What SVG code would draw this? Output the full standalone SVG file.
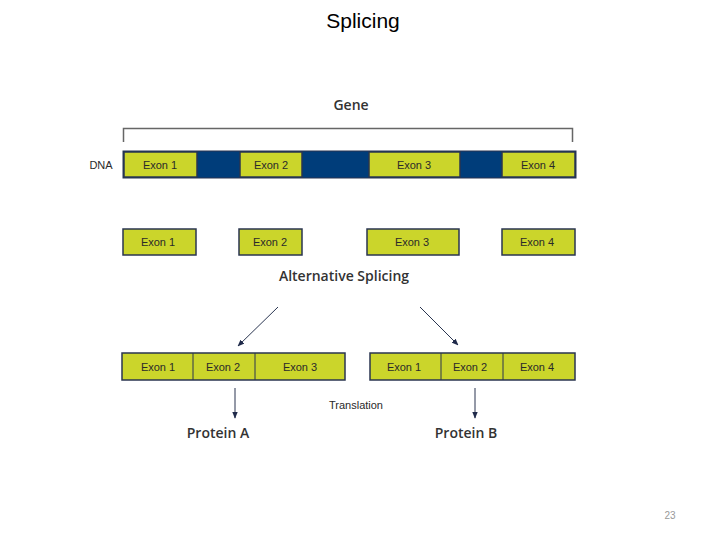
<svg xmlns="http://www.w3.org/2000/svg" width="720" height="540" viewBox="0 0 720 540">
<style>
.ex{fill:#cbd52b;stroke:#2a3550;stroke-width:1.5}
.t{font-family:"Liberation Sans",Arial,sans-serif;font-size:11px;fill:#2a2a2a;text-anchor:middle}
.h{font-family:"Open Sans","DejaVu Sans",sans-serif;font-size:14px;font-weight:600;fill:#333;text-anchor:middle}
.c{stroke:#2a3550;stroke-width:1;fill:none}
</style>
<defs>
<marker id="ah" viewBox="0 0 10 10" refX="9" refY="5" markerWidth="7" markerHeight="7" orient="auto"><path d="M0,1 L10,5 L0,9 Z" fill="#1f2a4a"/></marker>
</defs>
<rect width="720" height="540" fill="#fff"/>
<text x="363" y="28" font-family="Liberation Sans,Arial,sans-serif" font-size="21" fill="#000" text-anchor="middle">Splicing</text>
<g id="gene">
<text class="h" x="351" y="110">Gene</text>
<path d="M123.5,142 V128.5 H572.5 V142" fill="none" stroke="#666" stroke-width="1.5"/>
</g>
<g id="dna">
<text class="t" x="101" y="169" font-size="12">DNA</text>
<rect x="123" y="151" width="453" height="27" fill="#003d7a" stroke="#2a3550" stroke-width="1"/>
<rect class="ex" x="124" y="152" width="73" height="25"/><text class="t" x="160" y="169">Exon 1</text>
<rect class="ex" x="240" y="152" width="62" height="25"/><text class="t" x="271" y="169">Exon 2</text>
<rect class="ex" x="369" y="152" width="91" height="25"/><text class="t" x="414" y="169">Exon 3</text>
<rect class="ex" x="502" y="152" width="73" height="25"/><text class="t" x="538" y="169">Exon 4</text>
</g>
<g id="exons">
<rect class="ex" x="123" y="229" width="73" height="26"/><text class="t" x="158" y="246">Exon 1</text>
<rect class="ex" x="239" y="229" width="63" height="26"/><text class="t" x="270" y="246">Exon 2</text>
<rect class="ex" x="367" y="229" width="92" height="26"/><text class="t" x="412" y="246">Exon 3</text>
<rect class="ex" x="502" y="229" width="73" height="26"/><text class="t" x="537" y="246">Exon 4</text>
</g>
<text class="h" x="344" y="281">Alternative Splicing</text>
<g id="mrnaA">
<rect class="ex" x="122" y="353" width="223" height="27"/>
<line class="c" x1="193" y1="353" x2="193" y2="380"/><line class="c" x1="255" y1="353" x2="255" y2="380"/>
<text class="t" x="158" y="371">Exon 1</text><text class="t" x="223" y="371">Exon 2</text><text class="t" x="300" y="371">Exon 3</text>
</g>
<g id="mrnaB">
<rect class="ex" x="370" y="353" width="205" height="27"/>
<line class="c" x1="441" y1="353" x2="441" y2="380"/><line class="c" x1="503" y1="353" x2="503" y2="380"/>
<text class="t" x="404" y="371">Exon 1</text><text class="t" x="470" y="371">Exon 2</text><text class="t" x="537" y="371">Exon 4</text>
</g>
<g id="connectors">
<line class="c" x1="278" y1="307" x2="238" y2="346" marker-end="url(#ah)"/>
<line class="c" x1="420" y1="307" x2="458" y2="345" marker-end="url(#ah)"/>
<line class="c" x1="235" y1="388" x2="235" y2="418" marker-end="url(#ah)"/>
<line class="c" x1="475" y1="388" x2="475" y2="418" marker-end="url(#ah)"/>
</g>
<text class="t" x="356" y="409" font-size="10.5">Translation</text>
<g id="proteinA"><text class="h" x="218" y="438">Protein A</text></g>
<g id="proteinB"><text class="h" x="466" y="438">Protein B</text></g>
<text x="670" y="519" font-family="Liberation Sans,Arial,sans-serif" font-size="10" fill="#999" text-anchor="middle">23</text>
</svg>
